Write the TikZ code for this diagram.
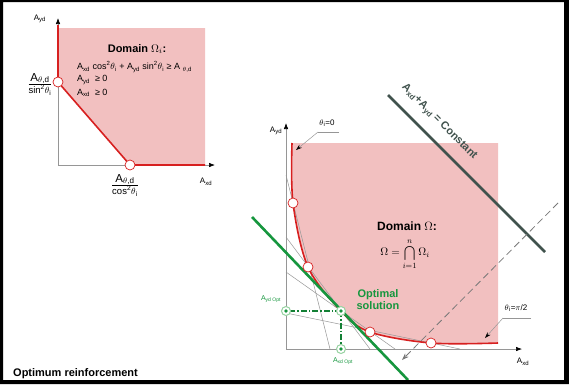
\documentclass[tikz,border=0pt]{standalone}
\usepackage[no-math]{fontspec}
\setmainfont{Liberation Sans}
\usetikzlibrary{arrows.meta, positioning, calc}
\definecolor{domfill}{RGB}{242,192,192}
\definecolor{bndred}{RGB}{215,32,32}
\definecolor{optgreen}{RGB}{22,150,62}
\definecolor{optlight}{RGB}{150,210,160}
\definecolor{cstgray}{RGB}{64,82,77}
\definecolor{tnggray}{RGB}{150,150,150}
\tikzset{
  dom/.style={fill=domfill, draw=none},
  bnd/.style={draw=bndred, line width=1.6pt},
  vtx/.style={circle, draw=bndred, fill=white, line width=0.7pt, minimum size=10pt, inner sep=0pt},
  optpt/.style={circle, draw=optlight, fill=white, line width=1pt, minimum size=9pt, inner sep=0pt,
                path picture={\fill[optgreen] (path picture bounding box.center) circle (1.8pt);}},
  axis/.style={draw=tnggray, line width=0.6pt, -{Latex[length=6pt, width=4.5pt, color=black]}},
  tng/.style={draw=tnggray, line width=0.5pt},
  cost/.style={draw=optgreen, line width=2.6pt},
  cst/.style={draw=cstgray, line width=2.6pt},
  proj/.style={draw=optgreen!85!black, line width=1.4pt, dash pattern=on 6pt off 2pt on 1.5pt off 2pt},
  lead/.style={draw=tnggray, line width=0.5pt},
  leadarr/.style={draw=tnggray, line width=0.5pt, -{Stealth[length=6pt, width=4pt, color=black]}},
  dsh/.style={draw=tnggray!80!black, line width=0.8pt, dash pattern=on 7pt off 4pt, -{Stealth[length=7pt, width=5pt]}},
  ttl/.style={font=\fontsize{11}{13}\selectfont\bfseries, inner sep=0pt},
  eqn/.style={font=\fontsize{9}{10}\selectfont, inner sep=0pt, anchor=west},
  axl/.style={font=\fontsize{8}{9}\selectfont, inner sep=0pt},
  frac/.style={font=\fontsize{9.5}{11}\selectfont, inner sep=0pt},
  optl/.style={font=\fontsize{11}{12}\selectfont\bfseries, text=optgreen, align=center, inner sep=0pt},
  optax/.style={font=\fontsize{7}{8}\selectfont, text=optgreen, inner sep=0pt},
}
\begin{document}
\begin{tikzpicture}[x=1pt, y=-1pt]
\useasboundingbox (0,0) rectangle (569,384);

% ========== Domain Omega_i (left) ==========
\fill[dom] (58,28) -- (205,28) -- (205,165) -- (130,165) -- (58,82) -- cycle;
\coordinate (LO) at (58,165);
\coordinate (LYtip) at (58,18);
\coordinate (LXtip) at (215,165);
\coordinate (Ltop) at (58,25);
\coordinate (LpY) at (58,82);
\coordinate (LpX) at (130,165);
\coordinate (Lend) at (205,165);
\draw[axis] (LO) -- (LYtip);
\draw[axis] (LO) -- (LXtip);
\draw[bnd] (Ltop) -- (LpY) -- (LpX) -- (Lend);
\node[vtx] (LvY) at (LpY) {};
\node[vtx] (LvX) at (LpX) {};

\node[axl] (LAy) at (40,19) {A\textsubscript{yd}};
\node[axl] (LAx) at (206,182) {A\textsubscript{xd}};
\node[frac] (LfY) at (40,85) {\setlength\arrayrulewidth{0.6pt}\begin{tabular}{@{}c@{}}{\fontsize{11.5}{12}\selectfont A\textsubscript{$\theta$,d}}\\\hline sin\textsuperscript{2}$\theta$\textsubscript{i}\end{tabular}};
\node[frac] (LfX) at (125,186) {\setlength\arrayrulewidth{0.6pt}\begin{tabular}{@{}c@{}}{\fontsize{11.5}{12}\selectfont A\textsubscript{$\theta$,d}}\\\hline cos\textsuperscript{2}$\theta$\textsubscript{i}\end{tabular}};

\node[ttl] (Ldom) at (137,49) {Domain $\Omega_i$:};
\node[eqn] (Leq1) at (77,67) {A\textsubscript{xd} cos\textsuperscript{2}$\theta$\textsubscript{i} + A\textsubscript{yd} sin\textsuperscript{2}$\theta$\textsubscript{i} ≥ A \textsubscript{$\theta$,d}};
\node[eqn] (Leq2) at (77,80) {A\textsubscript{yd} \ ≥ 0};
\node[eqn] (Leq3) at (77,93) {A\textsubscript{xd} \ ≥ 0};

% ========== Domain Omega (right) ==========
\fill[dom] plot[smooth, tension=0.55] coordinates {(292,143) (293,203) (308,267) (341,311) (370,332) (431,343) (498,343)} -- (498,143) -- cycle;

% Achsen
\coordinate (RO) at (286,349);
\coordinate (RYtip) at (286,123);
\coordinate (RXtip) at (522,349);
\draw[axis] (RO) -- (RYtip);
\draw[axis] (RO) -- (RXtip);

% Tangenten
\draw[tng] (286,175) -- (330,349);
\draw[tng] (286,237) -- (370,349);
\draw[tng] (286,272) -- (395,349);
\draw[tng] (286,313) -- (460,349);

% Zielfunktion
\coordinate (Ca) at (388,95);
\coordinate (Cb) at (545,252);
\draw[cst] (Ca) -- (Cb);
\node[font=\fontsize{11}{12}\selectfont\bfseries, text=cstgray, rotate=-45, inner sep=0pt] (Clbl) at (439,122)
  {A\textsubscript{xd}+A\textsubscript{yd} = Constant};
\coordinate (Da) at (558,203);
\coordinate (Db) at (402,360);
\draw[dsh] (Da) -- (Db);

% Umhuellende
\draw[bnd] plot[smooth, tension=0.55] coordinates {(292,143) (293,203) (308,267) (341,311) (370,332) (431,343) (498,343)};

% Optimum
\coordinate (Ga) at (252,217);
\coordinate (Gb) at (408,380);
\draw[cost] (Ga) -- (Gb);
\coordinate (Popt) at (341,311);
\coordinate (PoY) at (286,311);
\coordinate (PoX) at (341,349);
\draw[proj] (Popt) -- (PoY);
\draw[proj] (Popt) -- (PoX);

\node[vtx] (Rv1) at (293,203) {};
\node[vtx] (Rv2) at (308,267) {};
\node[vtx] (Rv3) at (370,332) {};
\node[vtx] (Rv4) at (431,343) {};
\node[optpt] (Ropt) at (Popt) {};
\node[optpt] (RoY) at (PoY) {};
\node[optpt] (RoX) at (PoX) {};

\node[optax] (RoYl) at (271,299) {A\textsubscript{yd Opt}};
\node[optax] (RoXl) at (343,361) {A\textsubscript{xd Opt}};
\node[optl] (Roptl) at (378,300) {Optimal\\solution};

\node[ttl, font=\fontsize{12}{14}\selectfont\bfseries] (Rdom) at (407,226) {Domain $\Omega$:};
\node[inner sep=0pt, font=\fontsize{11}{13}\selectfont] (Rform) at (405,254) {$\displaystyle\Omega=\bigcap_{i=1}^{n}\Omega_i$};

\node[axl] (RAy) at (276,131) {A\textsubscript{yd}};
\node[axl] (RAx) at (523,362) {A\textsubscript{xd}};

% Beschriftung theta
\node[axl] (Rth0) at (327,123) {$\theta$\textsubscript{i}=0};
\coordinate (Rth0a) at (339,132);
\coordinate (Rth0b) at (318,132);
\coordinate (Rth0t) at (296,150);
\draw[lead] (Rth0a) -- (Rth0b);
\draw[leadarr] (Rth0b) -- (Rth0t);

\node[axl] (Rth9) at (516,308) {$\theta$\textsubscript{i}=$\pi$/2};
\coordinate (Rth9a) at (531,318);
\coordinate (Rth9b) at (503,318);
\coordinate (Rth9t) at (485,338);
\draw[lead] (Rth9a) -- (Rth9b);
\draw[leadarr] (Rth9b) -- (Rth9t);

\node[font=\fontsize{11}{13}\selectfont\bfseries, anchor=west, inner sep=0pt] (title) at (13,374) {Optimum reinforcement};

% Rahmen
\fill[black, even odd rule] (0,0) rectangle (569,384) (3,2) rectangle (564,380);
\end{tikzpicture}
\end{document}
